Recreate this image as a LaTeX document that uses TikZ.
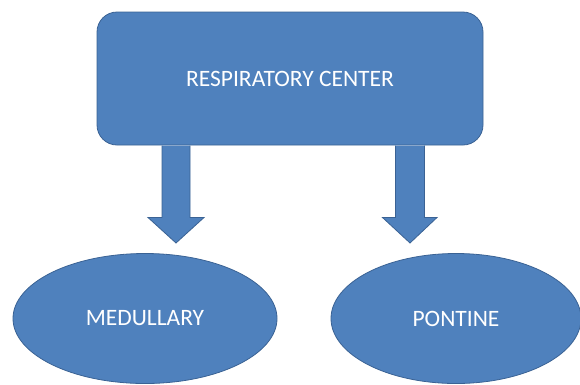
\documentclass[tikz,border=0pt]{standalone}
\usepackage{fontspec}
\setmainfont{Carlito}
\usetikzlibrary{shapes.geometric}
\definecolor{boxblue}{HTML}{4F81BD}
\definecolor{edgeblue}{HTML}{3A6294}
\tikzset{
  blockfill/.style={fill=boxblue, draw=edgeblue, line width=0.8pt},
  lbl/.style={text=white, font=\fontsize{23.5}{28}\selectfont},
  oval/.style={blockfill, ellipse, minimum width=264pt, minimum height=130pt, inner sep=0pt, lbl},
}
\begin{document}
\begin{tikzpicture}[x=1pt,y=-1pt]
\useasboundingbox (0,0) rectangle (580,384);
\node[blockfill, rounded corners=20pt, minimum width=386pt, minimum height=133pt, inner sep=0pt, lbl] (rc) at (290,78.5) {RESPIRATORY CENTER};
\node[oval] (med) at (145,318.5) {MEDULLARY};
\node[oval, minimum width=250pt] (pon) at (456,318.5) {PONTINE};
% block arrows
\coordinate (la) at (176,145.5);
\coordinate (ra) at (410,145.5);
\draw[blockfill] ([xshift=-14pt]la) -- ++(0,72) -- ++(-14,0) -- (176,243) -- (204,217.5) -- ++(-14,0) -- ([xshift=14pt]la);
\draw[blockfill] ([xshift=-14.5pt]ra) -- ++(0,72) -- ++(-13,0) -- (410,243) -- (437,217.5) -- ++(-12.5,0) -- ([xshift=14.5pt]ra);
\end{tikzpicture}
\end{document}
